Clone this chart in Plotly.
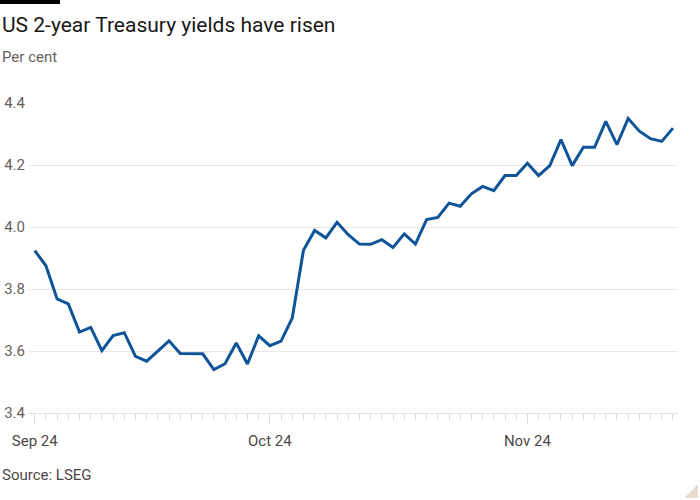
import plotly.graph_objects as go
import pandas as pd

# Trading days (weekdays) from 2 Sep 2024 to 20 Nov 2024
dates = [d.strftime("%Y-%m-%d") for d in pd.bdate_range("2024-09-02", "2024-11-20")]

yields = [
    3.924, 3.875, 3.768, 3.752, 3.661, 3.676, 3.601, 3.650, 3.659, 3.583,
    3.567, 3.600, 3.633, 3.592, 3.591, 3.591, 3.540, 3.559, 3.626, 3.558,
    3.649, 3.617, 3.632, 3.706, 3.925, 3.989, 3.965, 4.015, 3.975, 3.945,
    3.944, 3.959, 3.934, 3.978, 3.945, 4.024, 4.031, 4.077, 4.067, 4.107,
    4.131, 4.117, 4.166, 4.166, 4.206, 4.166, 4.198, 4.282, 4.198, 4.257,
    4.257, 4.341, 4.266, 4.350, 4.309, 4.285, 4.276, 4.319,
]

month_tick_dates = ["2024-09-02", "2024-10-01", "2024-11-01"]
month_tick_labels = ["Sep 24", "Oct 24", "Nov 24"]
y_ticks = [3.4, 3.6, 3.8, 4.0, 4.2, 4.4]

title_text = "US 2-year Treasury yields have risen"
subtitle_text = "Per cent"
source_text = "Source: LSEG"

x_idx = list(range(len(dates)))
tick_idx = [dates.index(d) for d in month_tick_dates]

FONT = "Roboto"
W, H = 700, 500
L, R, T, B = 28, 22, 103, 87
PW, PH = W - L - R, H - T - B

def px(x):
    return (x - L) / PW

def py(y):
    return (H - B - y) / PH

fig = go.Figure()
fig.add_trace(go.Scatter(
    x=x_idx, y=yields, mode="lines",
    line=dict(color="#0f5499", width=3),
    text=dates, hovertemplate="%{text}: %{y:.3f}<extra></extra>",
    cliponaxis=False,
))

fig.update_layout(
    width=W, height=H,
    margin=dict(l=L, r=R, t=T, b=B, autoexpand=False),
    paper_bgcolor="white", plot_bgcolor="white",
    showlegend=False,
    font=dict(family=FONT, color="#66605c", size=14),
    xaxis=dict(
        range=[-0.6, 57.45], automargin=False,
        tickmode="array", tickvals=tick_idx, ticktext=month_tick_labels,
        ticks="outside", ticklen=10, tickcolor="#e0dbd5", tickwidth=1,
        showline=True, linecolor="#e6e1dc", linewidth=1,
        showgrid=False, zeroline=False, ticklabelstandoff=4,
        tickfont=dict(size=15, color="#4d4845"),
        minor=dict(dtick=1, tick0=0, ticks="outside", ticklen=6,
                   tickcolor="#e0dbd5", tickwidth=1, showgrid=False),
    ),
    yaxis=dict(
        range=[3.4, 4.4], automargin=False,
        tickmode="array", tickvals=y_ticks,
        ticktext=[f"{v:.1f}" for v in y_ticks],
        showgrid=True, gridcolor="#ebe7e3", gridwidth=1,
        zeroline=False, showline=False, ticks="",
        ticklabelstandoff=2,
        tickfont=dict(size=15, color="#66605c"),
    ),
)

# top black bar
fig.add_shape(type="rect", xref="paper", yref="paper",
              x0=px(0), x1=px(60), y0=py(4), y1=py(0),
              fillcolor="black", line=dict(width=0), layer="above")
# corner triangle
fig.add_shape(type="path", xref="paper", yref="paper",
              path=f"M {px(684)},{py(498)} L {px(698)},{py(484)} L {px(698)},{py(498)} Z",
              fillcolor="#e5dccf", line=dict(width=0))

fig.add_annotation(text=title_text, xref="paper", yref="paper",
                   x=px(0), y=py(25), xanchor="left", yanchor="middle",
                   showarrow=False, font=dict(family=FONT, size=21, color="#1a1817"))
fig.add_annotation(text=subtitle_text, xref="paper", yref="paper",
                   x=px(0), y=py(57), xanchor="left", yanchor="middle",
                   showarrow=False, font=dict(family=FONT, size=15, color="#66605c"))
fig.add_annotation(text=source_text, xref="paper", yref="paper",
                   x=px(0), y=py(475), xanchor="left", yanchor="middle",
                   showarrow=False, font=dict(family=FONT, size=15, color="#4d4845"))

fig.write_html("out.html",
               config={"displayModeBar": False},
               post_script="document.body.style.margin='0';document.body.style.overflow='hidden';")
